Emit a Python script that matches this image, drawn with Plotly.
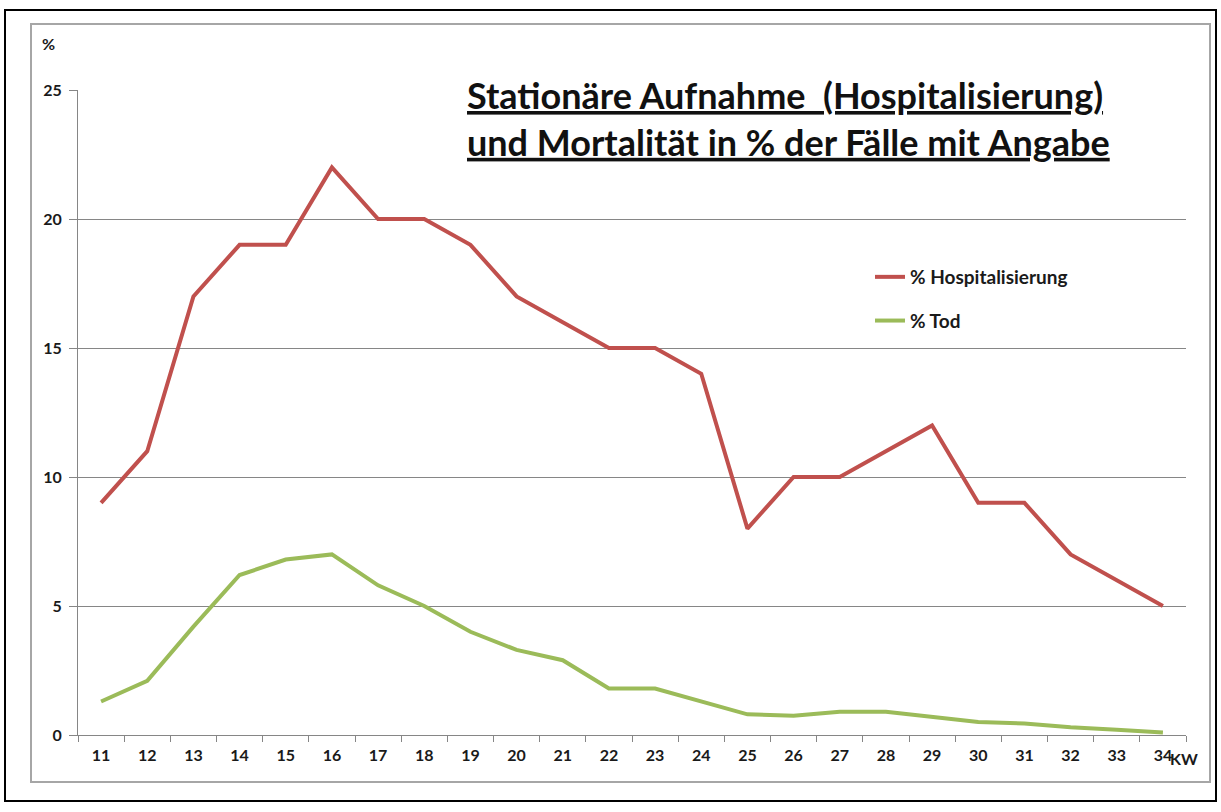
import plotly.graph_objects as go

weeks = [str(w) for w in range(11, 35)]
hosp = [9, 11, 17, 19, 19, 22, 20, 20, 19, 17, 16, 15, 15, 14, 8, 10, 10, 11, 12, 9, 9, 7, 6, 5]
tod = [1.3, 2.1, 4.2, 6.2, 6.8, 7.0, 5.8, 5.0, 4.0, 3.3, 2.9, 1.8, 1.8, 1.3, 0.8, 0.75, 0.9, 0.9, 0.7, 0.5, 0.45, 0.3, 0.2, 0.1]
y_ticks = [0, 5, 10, 15, 20, 25]

W, H = 1221, 812
L, R, T, B = 78, 1186, 90, 735

def px(x):
    return (x - L) / (R - L)

def py(y):
    return (B - y) / (B - T)

FONT = "Lato"
TXT = "#1a1a1a"
fig = go.Figure()
fig.add_trace(go.Scatter(x=weeks, y=hosp, mode="lines", name="% Hospitalisierung",
                         line=dict(color="#C0504D", width=4), legendgroup="a"))
fig.add_trace(go.Scatter(x=weeks, y=tod, mode="lines", name="% Tod",
                         line=dict(color="#9BBB59", width=4), legendgroup="b"))

fig.update_layout(
    width=W, height=H,
    margin=dict(l=L, r=W - R, t=T, b=H - B),
    paper_bgcolor="white", plot_bgcolor="white",
    font=dict(family=FONT, color=TXT),
    showlegend=True,
    legend=dict(x=px(870), y=py(258), xanchor="left", yanchor="top",
                font=dict(size=19, family=FONT, weight="bold", color=TXT),
                tracegroupgap=16, bgcolor="rgba(0,0,0,0)"),
    xaxis=dict(type="category", tickson="boundaries", ticks="outside", ticklen=6,
               tickcolor="#868686", showline=True, linecolor="#868686", linewidth=1,
               showgrid=False, tickfont=dict(size=16, family=FONT, weight="bold", color=TXT),
               ticklabelstandoff=6, range=[-0.5, 23.5]),
    yaxis=dict(range=[0, 25], tickvals=y_ticks, ticks="outside", ticklen=8,
               tickcolor="#868686", showline=True, linecolor="#868686", linewidth=1,
               showgrid=True, gridcolor="#868686", gridwidth=1, zeroline=False,
               ticklabelstandoff=4,
               tickfont=dict(size=16, family=FONT, weight="bold", color=TXT)),
)

# title box covering gridline
fig.add_annotation(xref="paper", yref="paper", x=px(462), y=py(68), xanchor="left", yanchor="top",
                   text="<u>Stationäre Aufnahme  (Hospitalisierung)</u><br><u>und Mortalität in % der Fälle mit Angabe</u>",
                   showarrow=False, align="left", bgcolor="white", borderpad=4,
                   font=dict(size=36, family=FONT, weight="bold", color="#111111"))

fig.add_annotation(xref="paper", yref="paper", x=px(48), y=py(44), xanchor="center", yanchor="middle",
                   text="%", showarrow=False, font=dict(size=16, family=FONT, weight="bold", color=TXT))
fig.add_annotation(xref="paper", yref="paper", x=px(1168), y=py(759), xanchor="left", yanchor="middle",
                   text="KW", showarrow=False, font=dict(size=16, family=FONT, weight="bold", color=TXT))

# frames
fig.add_shape(type="rect", xref="paper", yref="paper", x0=px(31), x1=px(1210), y0=py(24), y1=py(782),
              line=dict(color="#A6A6A6", width=2), fillcolor="rgba(0,0,0,0)", layer="below")
fig.add_shape(type="rect", xref="paper", yref="paper", x0=px(5), x1=px(1216), y0=py(10), y1=py(801),
              line=dict(color="#000000", width=2), fillcolor="rgba(0,0,0,0)", layer="below")

fig.write_html("out.html", config={"displayModeBar": False},
               post_script="document.body.style.margin='0';document.body.style.overflow='hidden';")
